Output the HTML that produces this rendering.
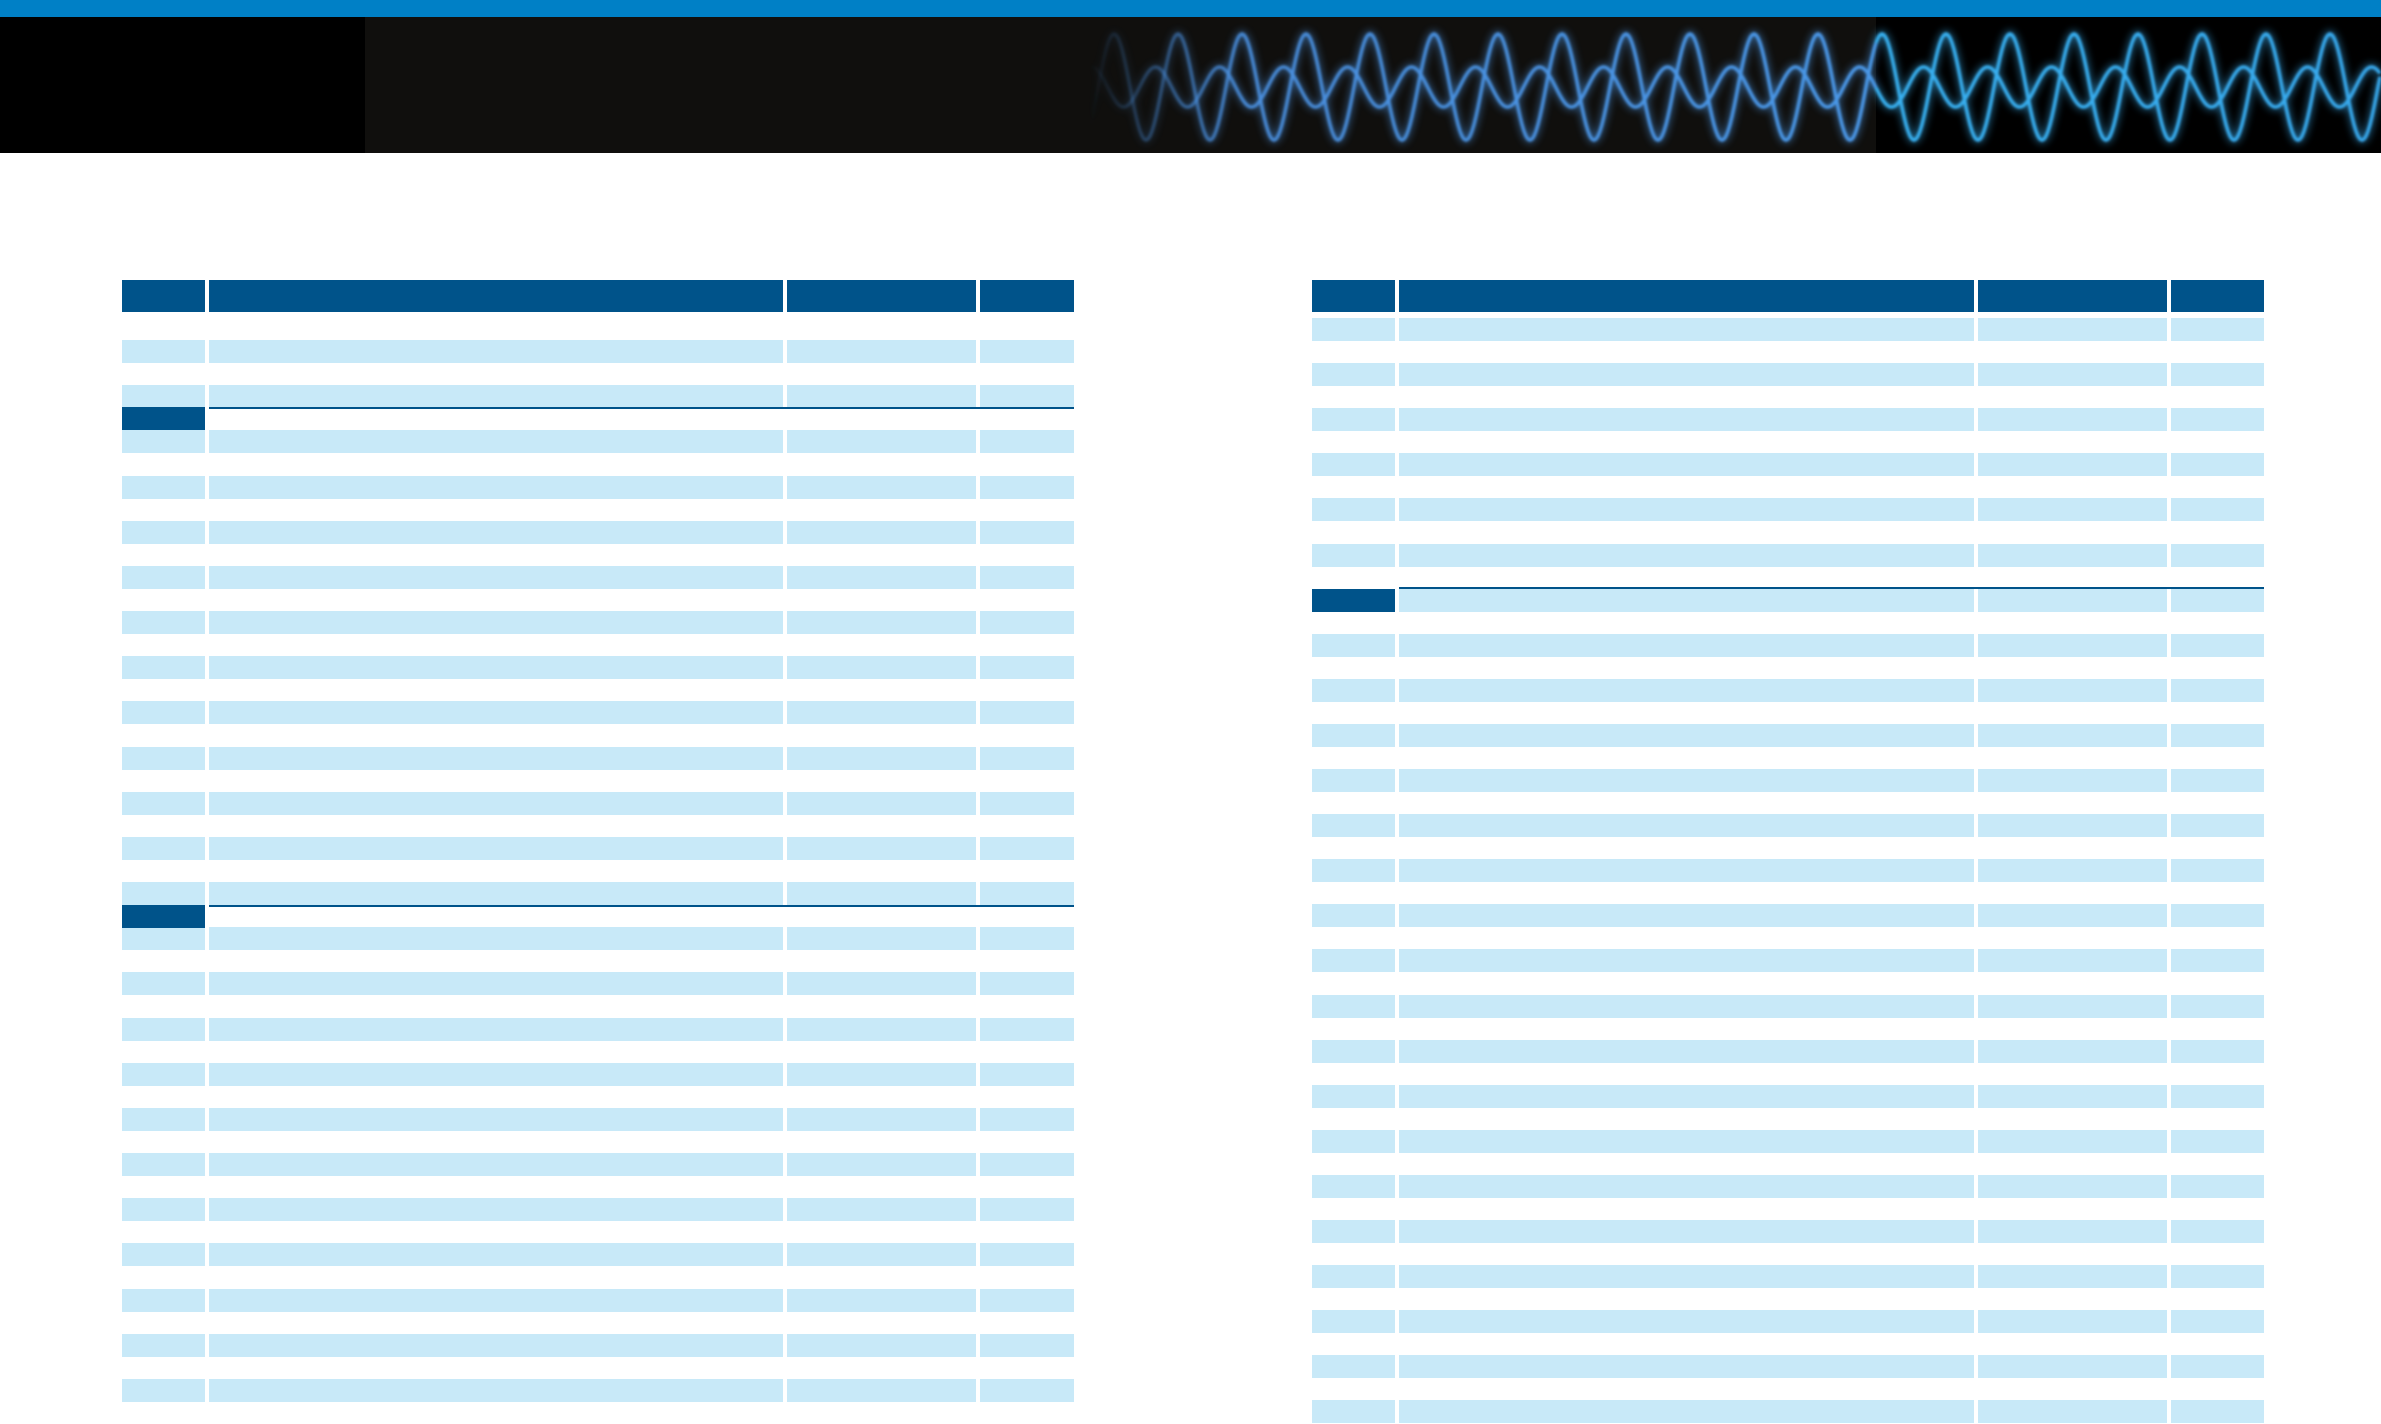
<!DOCTYPE html>
<html><head><meta charset="utf-8"><style>
html,body{margin:0;padding:0;background:#fff;}
body{width:2381px;height:1424px;position:relative;overflow:hidden;font-family:"Liberation Sans",sans-serif;}
.a{position:absolute;}
.d{background:#00538a;}
.l{background:#c8e9f8;}
</style></head><body>
<div class="a" style="left:0;top:0;width:2381px;height:17px;background:#0080c6"></div>
<div class="a" style="left:0;top:17px;width:365px;height:136px;background:#000"></div>
<div class="a" style="left:365px;top:17px;width:1511px;height:136px;background:#100f0d"></div>
<div class="a" style="left:1876px;top:17px;width:505px;height:136px;background:#000"></div>
<svg class="a" style="left:0;top:17px" width="2381" height="136">
<defs>
<filter id="g" x="-5%" y="-20%" width="110%" height="140%"><feGaussianBlur stdDeviation="1.2"/></filter>
<filter id="g2" x="-5%" y="-20%" width="110%" height="140%"><feGaussianBlur stdDeviation="4"/></filter>
<linearGradient id="s1" gradientUnits="userSpaceOnUse" x1="1090" y1="0" x2="1876" y2="0">
<stop offset="0" stop-color="#4a90e0" stop-opacity="0"/><stop offset="0.2" stop-color="#4a90e0" stop-opacity="0.9"/><stop offset="1" stop-color="#4a98e8"/></linearGradient>
<linearGradient id="s2" gradientUnits="userSpaceOnUse" x1="1876" y1="0" x2="2381" y2="0">
<stop offset="0" stop-color="#38b0f0"/><stop offset="1" stop-color="#38a8ec"/></linearGradient>
</defs>
<g id="glow" fill="none" stroke-width="7" opacity="0.5" filter="url(#g2)"></g>
<g id="waves" fill="none" stroke-width="3.5" filter="url(#g)"></g>
</svg>
<div id="t"></div>
<script>
var t=document.getElementById('t');
function r(x,y,w,h,c){var e=document.createElement('div');e.className='a '+c;e.style.cssText+='left:'+x+'px;top:'+y+'px;width:'+w+'px;height:'+h+'px';t.appendChild(e);}
var L=[[122,83],[209,574],[787,189],[980,94]];
var R=[[1312,83],[1399,575],[1978,189],[2171,93]];
L.forEach(function(c){r(c[0],280,c[1],32,'d');});
R.forEach(function(c){r(c[0],280,c[1],32,'d');});
for(var k=0;k<24;k++){var y=Math.round(340+45.17*k);L.forEach(function(c){r(c[0],y,c[1],23,'l');});}
[407,905].forEach(function(y){r(122,y,83,23,'d');r(209,y,865,2,'d');});
for(var k=0;k<25;k++){var y=Math.round(318+45.1*k);R.forEach(function(c,i){r(c[0],y,c[1],23,(k==6&&i==0)?'d':'l');});}
r(1399,587,865,2,'d');
function path(x0,x1,fn){var d='';for(var x=x0;x<=x1;x+=2){d+=(x==x0?'M':'L')+x+' '+fn(x).toFixed(1)+' ';}return d;}
var P=64;
function w1(x){return 70+53*Math.sin(2*Math.PI*(x-1130)/P);}
function w2(x){return 70+20*Math.sin(2*Math.PI*(x-1130)/P+2.2);}
['glow','waves'].forEach(function(id){var g=document.getElementById(id);
[[1090,1876,'url(#s1)'],[1876,2381,'url(#s2)']].forEach(function(s){
[w1,w2].forEach(function(f){var p=document.createElementNS('http://www.w3.org/2000/svg','path');p.setAttribute('d',path(s[0],s[1],f));p.setAttribute('stroke',s[2]);g.appendChild(p);});});});
</script>
</body></html>
